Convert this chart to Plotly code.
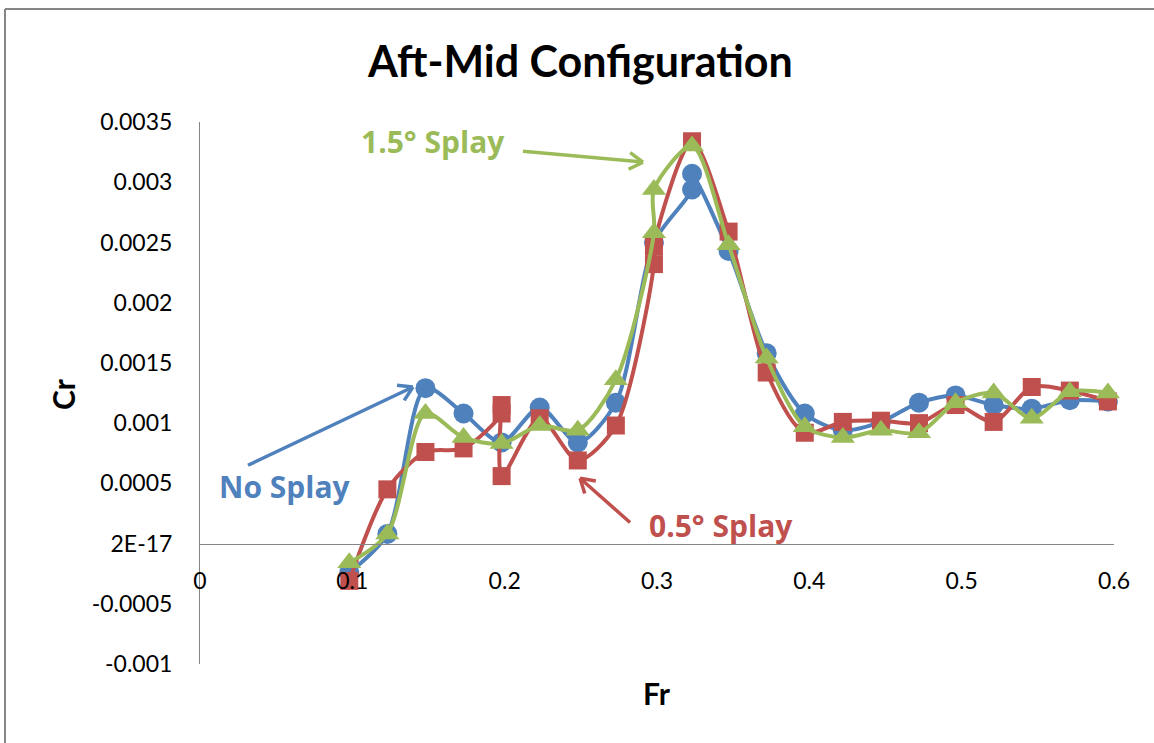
import math
import plotly.graph_objects as go

# ---- data ----
fr_no = [0.098, 0.123, 0.148, 0.173, 0.198, 0.223, 0.248, 0.273, 0.298, 0.323, 0.323,
         0.347, 0.372, 0.397, 0.422, 0.447, 0.472, 0.496, 0.521, 0.546, 0.571, 0.596]
cr_no = [-0.00024, 0.00008, 0.00129, 0.00108, 0.00084, 0.00113, 0.00084, 0.00117, 0.00250, 0.00294, 0.00307,
         0.00243, 0.00158, 0.00108, 0.00094, 0.00101, 0.00117, 0.00123, 0.00115, 0.00112, 0.00119, 0.00118]

fr_05 = [0.098, 0.123, 0.148, 0.173, 0.198, 0.198, 0.198, 0.223, 0.248, 0.273, 0.298, 0.298, 0.323,
         0.347, 0.372, 0.397, 0.422, 0.447, 0.472, 0.496, 0.521, 0.546, 0.571, 0.596]
cr_05 = [-0.00031, 0.00045, 0.00076, 0.00079, 0.00108, 0.00115, 0.00056, 0.00104, 0.00069, 0.00098, 0.00232, 0.00247, 0.00334,
         0.00259, 0.00142, 0.00092, 0.00101, 0.00102, 0.00100, 0.00115, 0.00101, 0.00130, 0.00127, 0.00118]

fr_15 = [0.098, 0.123, 0.148, 0.173, 0.198, 0.223, 0.248, 0.273, 0.298, 0.298, 0.323,
         0.347, 0.372, 0.397, 0.422, 0.447, 0.472, 0.496, 0.521, 0.546, 0.571, 0.596]
cr_15 = [-0.00016, 0.00008, 0.00108, 0.00088, 0.00083, 0.00098, 0.00094, 0.00136, 0.00258, 0.00294, 0.00330,
         0.00248, 0.00154, 0.00097, 0.00088, 0.00094, 0.00092, 0.00117, 0.00125, 0.00104, 0.00126, 0.00125]

y_tickvals = [0.0035, 0.003, 0.0025, 0.002, 0.0015, 0.001, 0.0005, 0.0, -0.0005, -0.001]
y_ticktext = ["0.0035", "0.003", "0.0025", "0.002", "0.0015", "0.001", "0.0005", "2E-17", "-0.0005", "-0.001"]
x_tickvals = [0, 0.1, 0.2, 0.3, 0.4, 0.5, 0.6]
x_ticktext = ["0", "0.1", "0.2", "0.3", "0.4", "0.5", "0.6"]

BLUE = "#4F81BD"
RED = "#C0504D"
GREEN = "#9BBB59"
FONT = "Lato"
CALLOUT_FONT = "Open Sans"

W, H = 1154, 743
ML, MR, MT, MB = 200, 40, 122, 79
X0, X1 = 0.0, 0.6
Y0, Y1 = -0.001, 0.0035
PW, PH = W - ML - MR, H - MT - MB

fig = go.Figure()
series = [
    ("No Splay", fr_no, cr_no, BLUE, "circle", 20),
    ("0.5° Splay", fr_05, cr_05, RED, "square", 18),
    ("1.5° Splay", fr_15, cr_15, GREEN, "triangle-up", 21),
]
for name, xs, ys, col, sym, sz in series:
    fig.add_trace(go.Scatter(
        x=xs, y=ys, name=name, mode="lines+markers",
        line=dict(color=col, width=4, shape="spline", smoothing=0.8),
        marker=dict(color=col, symbol=sym, size=sz, line=dict(width=0)),
        showlegend=False, cliponaxis=False, hoverinfo="skip",
    ))

fig.update_layout(
    width=W, height=H,
    margin=dict(l=ML, r=MR, t=MT, b=MB),
    paper_bgcolor="white", plot_bgcolor="white",
    font=dict(family=FONT, color="#000000"),
    title=dict(text="<b>Aft-Mid Configuration</b>", x=0.503, xanchor="center",
               y=0.917, yanchor="middle", font=dict(family=FONT, size=43, color="#000000")),
    xaxis=dict(range=[X0, X1], tickvals=x_tickvals, ticktext=x_ticktext,
               anchor="free", position=(0 - Y0) / (Y1 - Y0),
               showline=True, linecolor="#868686", linewidth=1,
               showgrid=False, zeroline=False, ticks="",
               ticklabelstandoff=17, tickfont=dict(family=FONT, size=23, color="#000000")),
    yaxis=dict(range=[Y0, Y1], tickvals=y_tickvals, ticktext=y_ticktext,
               showline=True, linecolor="#868686", linewidth=1,
               showgrid=False, zeroline=False, ticks="",
               ticklabelstandoff=22, tickfont=dict(family=FONT, size=23, color="#000000")),
)

# axis titles
fig.add_annotation(text="<b>Fr</b>", xref="paper", yref="paper", x=(657 - ML) / PW, y=(H - MB - 693) / PH,
                   xanchor="center", yanchor="middle",
                   showarrow=False, font=dict(family=FONT, size=30, color="#000000"))
fig.add_annotation(text="<b>Cr</b>", xref="paper", yref="paper", x=(63 - ML) / PW, y=(H - MB - 394) / PH,
                   xanchor="center", yanchor="middle",
                   showarrow=False, textangle=-90, font=dict(family=FONT, size=30, color="#000000"))

# helpers between data and screen pixels (for the open arrowheads)
def to_px(x, y):
    return ML + (x - X0) / (X1 - X0) * PW, MT + (Y1 - y) / (Y1 - Y0) * PH

def to_data(px, py):
    return X0 + (px - ML) / PW * (X1 - X0), Y1 - (py - MT) / PH * (Y1 - Y0)

# series callouts
callouts = [
    ("1.5° Splay", GREEN, (0.153, 0.00334), (0.212, 0.003258), (0.2908, 0.003167)),
    ("No Splay", BLUE, (0.0558, 0.000475), (0.0315, 0.00065), (0.1398, 0.00130)),
    ("0.5° Splay", RED, (0.342, 0.000150), (0.2823, 0.000175), (0.2495, 0.000542)),
]
for txt, col, tpos, tail, tip in callouts:
    fig.add_annotation(text="<b>" + txt + "</b>", x=tpos[0], y=tpos[1], xref="x", yref="y", showarrow=False,
                       xanchor="center", yanchor="middle",
                       font=dict(family=CALLOUT_FONT, size=30, color=col))
    fig.add_shape(type="line", xref="x", yref="y", x0=tail[0], y0=tail[1], x1=tip[0], y1=tip[1],
                  line=dict(color=col, width=3.5))
    tx, ty = to_px(*tip)
    sx, sy = to_px(*tail)
    ang = math.atan2(sy - ty, sx - tx)
    for d in (0.55, -0.55):
        hx, hy = tx + 16 * math.cos(ang + d), ty + 16 * math.sin(ang + d)
        hx_d, hy_d = to_data(hx, hy)
        fig.add_shape(type="line", xref="x", yref="y", x0=tip[0], y0=tip[1], x1=hx_d, y1=hy_d,
                      line=dict(color=col, width=3.5))

# chart-area border (left and top edges visible in the reference)
px = lambda p: (p - ML) / PW
py = lambda p: (H - MB - p) / PH
fig.add_shape(type="line", xref="paper", yref="paper", x0=px(5), y0=py(9), x1=px(5), y1=py(760),
              line=dict(color="#868686", width=2))
fig.add_shape(type="line", xref="paper", yref="paper", x0=px(5), y0=py(9), x1=px(1170), y1=py(9),
              line=dict(color="#868686", width=2))

fig.write_html("out.html", config={"displayModeBar": False, "staticPlot": True},
               post_script="document.body.style.margin='0';document.body.style.overflow='hidden';")
